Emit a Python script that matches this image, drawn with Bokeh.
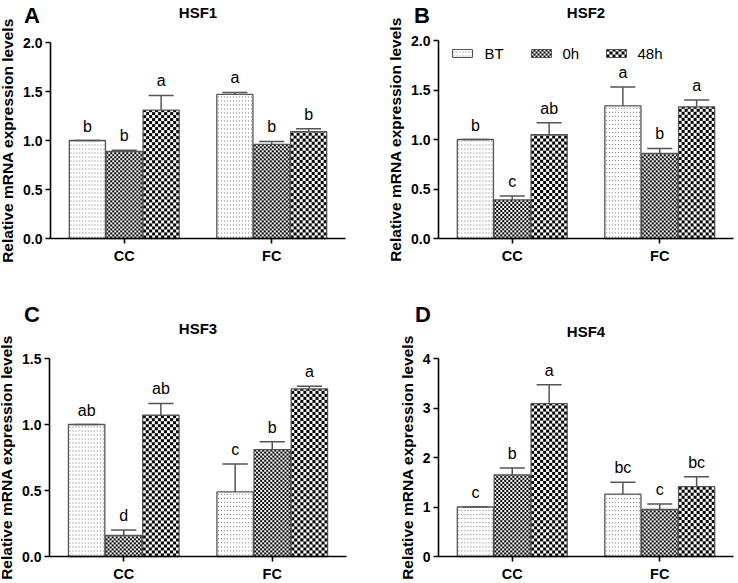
import numpy as np

from bokeh.core.properties import value
from bokeh.embed import file_html
from bokeh.layouts import column, row
from bokeh.models import (ColumnDataSource, FixedTicker, Label, NumeralTickFormatter,
                          Range1d)
from bokeh.plotting import figure
from bokeh.resources import INLINE

# ---------------- data ----------------
groups = ["CC", "FC"]
treatments = ["BT", "0h", "48h"]

# order inside each list: CC-BT, CC-0h, CC-48h, FC-BT, FC-0h, FC-48h
hsf1_mean = [1.00, 0.89, 1.31, 1.47, 0.96, 1.09]
hsf1_err = [0.00, 0.01, 0.15, 0.02, 0.03, 0.03]
hsf1_sig = ["b", "b", "a", "a", "b", "b"]

hsf2_mean = [1.00, 0.39, 1.05, 1.34, 0.86, 1.33]
hsf2_err = [0.00, 0.04, 0.12, 0.19, 0.05, 0.07]
hsf2_sig = ["b", "c", "ab", "a", "b", "a"]

hsf3_mean = [1.00, 0.16, 1.07, 0.49, 0.81, 1.27]
hsf3_err = [0.00, 0.04, 0.09, 0.21, 0.06, 0.02]
hsf3_sig = ["ab", "d", "ab", "c", "b", "a"]

hsf4_mean = [1.00, 1.65, 3.09, 1.26, 0.95, 1.41]
hsf4_err = [0.00, 0.14, 0.38, 0.24, 0.11, 0.20]
hsf4_sig = ["c", "b", "a", "bc", "c", "bc"]

y_ticks_a = [0, 0.5, 1.0, 1.5, 2.0]
y_ticks_b = [0, 0.5, 1.0, 1.5, 2.0]
y_ticks_c = [0, 0.5, 1.0, 1.5]
y_ticks_d = [0, 1, 2, 3, 4]

# ---------------- styles ----------------
FONT = "Liberation Sans"
EDGE = "#555555"
BAR_W = 0.245
CAP_W = 0.17
OFFSETS = [-0.25, 0.0, 0.25]
# texture: (cell width, cell height, mode, ink rgb)
TEX = {"BT": (3, 4, "dot", (120, 120, 120)),
       "0h": (2, 2, "checker", (0, 0, 0)),
       "48h": (3, 3, "checker", (0, 0, 0))}


def texture(kind, h, w):
    cw, ch, mode, ink = TEX[kind]
    h = max(int(h), 1)
    w = max(int(w), 1)
    yy, xx = np.mgrid[0:h, 0:w]
    img = np.full((h, w, 4), 255, dtype=np.uint8)
    if mode == "dot":
        mask = (xx % cw == 1) & (yy % ch == 1)
    else:
        mask = ((xx // cw + yy // ch) % 2) == 0
    img[mask, 0] = ink[0]
    img[mask, 1] = ink[1]
    img[mask, 2] = ink[2]
    return img.view(np.uint32).reshape(h, w)


def make_panel(letter, gene, mean, err, sig, y_end, ticks, fmt, geo, legend=False):
    W, H = geo["size"]
    ax0, ax1 = geo["ax"]
    ay0, ay1 = geo["ay"]
    pxu = (ax1 - ax0) / 2.0            # pixels per x unit (0.5 .. 2.5)
    pyu = (ay1 - ay0) / y_end          # pixels per y unit
    xs = 0.5 - ax0 / pxu
    ys = -(H - ay1) / pyu

    p = figure(width=W, height=H, title=None,
               x_range=Range1d(xs, xs + W / pxu),
               y_range=Range1d(ys, ys + H / pyu),
               min_border_left=0, min_border_right=0,
               min_border_top=0, min_border_bottom=0,
               output_backend="svg", toolbar_location=None)
    p.outline_line_color = None
    p.xgrid.visible = False
    p.ygrid.visible = False
    p.background_fill_color = "white"
    p.border_fill_color = "white"

    centers = [i + 1 for i in range(len(groups))]
    for j, t in enumerate(treatments):
        off = OFFSETS[j]
        m = mean[j::3]
        e = err[j::3]
        xc = [c + off for c in centers]
        src = ColumnDataSource(dict(
            x=xc, left=[x - BAR_W / 2 for x in xc], m=m,
            top=[a + b for a, b in zip(m, e)],
            cl=[x - CAP_W / 2 for x in xc], cr=[x + CAP_W / 2 for x in xc],
            sig=sig[j::3]))
        imgs = [texture(t, round(v * pyu), round(BAR_W * pxu)) for v in m]
        p.image_rgba(image=imgs, x=src.data["left"], y=[0] * len(m),
                     dw=[BAR_W] * len(m), dh=m)
        p.vbar(x="x", top="m", bottom=0, width=BAR_W, source=src,
               fill_alpha=0, line_color=EDGE, line_width=1.3)
        p.segment(x0="x", y0="m", x1="x", y1="top", source=src,
                  line_color=EDGE, line_width=1.5)
        p.segment(x0="cl", y0="top", x1="cr", y1="top", source=src,
                  line_color=EDGE, line_width=1.5)
        p.text(x="x", y="top", text="sig", source=src, text_align="center",
               text_baseline="bottom", y_offset=-6, text_font=value(FONT),
               text_font_size="16px", text_color="black")

    # axes (fixed inside the frame so that the frame covers the whole canvas)
    ya = p.yaxis[0]
    ya.fixed_location = 0.5
    ya.bounds = (0, y_end)
    ya.ticker = FixedTicker(ticks=ticks)
    ya.formatter = NumeralTickFormatter(format=fmt)
    ya.axis_label = "Relative mRNA expression levels"
    ya.axis_label_text_font = FONT
    ya.axis_label_text_font_style = "bold"
    ya.axis_label_text_font_size = "15.5px"
    ya.axis_label_text_color = "black"
    ya.axis_label_standoff = 4
    ya.major_label_text_font = FONT
    ya.major_label_text_font_style = "bold"
    ya.major_label_text_font_size = "14px"
    ya.major_label_text_color = "black"
    ya.major_label_standoff = 3
    ya.axis_line_width = 1.6
    ya.major_tick_line_width = 1.6
    ya.major_tick_out = 5
    ya.major_tick_in = 0
    ya.minor_tick_out = 0
    ya.minor_tick_in = 0

    xa = p.xaxis[0]
    xa.fixed_location = 0
    xa.bounds = (0.5, 2.5)
    xa.ticker = FixedTicker(ticks=centers)
    xa.major_label_overrides = {c: g for c, g in zip(centers, groups)}
    xa.major_label_text_font = FONT
    xa.major_label_text_font_style = "bold"
    xa.major_label_text_font_size = "14.5px"
    xa.major_label_text_color = "black"
    xa.major_label_standoff = 4
    xa.axis_line_width = 1.6
    xa.major_tick_line_width = 1.6
    xa.major_tick_out = 5
    xa.major_tick_in = 0
    xa.minor_tick_out = 0
    xa.minor_tick_in = 0

    # title and panel letter
    p.add_layout(Label(x=(ax0 + ax1) / 2, y=H - geo["title_y"], x_units="screen",
                       y_units="screen", text=gene, text_font=FONT,
                       text_font_style="bold", text_font_size="15px",
                       text_align="center", text_baseline="middle",
                       text_color="black"))
    lx, ly = geo["letter"]
    p.add_layout(Label(x=lx, y=H - ly, x_units="screen", y_units="screen",
                       text=letter, text_font=FONT, text_font_style="bold",
                       text_font_size="22px", text_align="center",
                       text_baseline="middle", text_color="black"))

    if legend:
        sw, sh = 20, 8
        sw_x = [84, 163, 238]
        lab_x = [116, 194, 269]
        sy = 53  # vertical centre, pixels from top
        for k, t in enumerate(treatments):
            x0 = xs + sw_x[k] / pxu
            y0 = ys + (H - sy - sh / 2) / pyu
            p.image_rgba(image=[texture(t, sh, sw)], x=[x0], y=[y0],
                         dw=[sw / pxu], dh=[sh / pyu])
            p.quad(left=[x0], right=[x0 + sw / pxu], bottom=[y0],
                   top=[y0 + sh / pyu], fill_alpha=0, line_color=EDGE,
                   line_width=1.0)
            p.add_layout(Label(x=lab_x[k], y=H - sy, x_units="screen",
                               y_units="screen", text=t, text_font=FONT,
                               text_font_size="15px", text_align="left",
                               text_baseline="middle", text_color="black"))
    return p


geo_a = dict(size=(368, 290), ax=(50, 345), ay=(42, 238), title_y=12, letter=(31.5, 14.5))
geo_b = dict(size=(368, 290), ax=(70, 365), ay=(40, 238), title_y=12, letter=(53.5, 14.5))
geo_c = dict(size=(368, 291), ax=(49, 346), ay=(68, 266), title_y=38, letter=(31.5, 23.5))
geo_d = dict(size=(368, 291), ax=(70, 365), ay=(68, 266), title_y=41, letter=(54.5, 24))

pa = make_panel("A", "HSF1", hsf1_mean, hsf1_err, hsf1_sig, 2.0, y_ticks_a, "0.0", geo_a)
pb = make_panel("B", "HSF2", hsf2_mean, hsf2_err, hsf2_sig, 2.0, y_ticks_b, "0.0", geo_b,
                legend=True)
pc = make_panel("C", "HSF3", hsf3_mean, hsf3_err, hsf3_sig, 1.5, y_ticks_c, "0.0", geo_c)
pd = make_panel("D", "HSF4", hsf4_mean, hsf4_err, hsf4_sig, 4.0, y_ticks_d, "0", geo_d)

layout = column(row(pa, pb), row(pc, pd))

with open("out.html", "w") as f:
    f.write(file_html(layout, INLINE))
